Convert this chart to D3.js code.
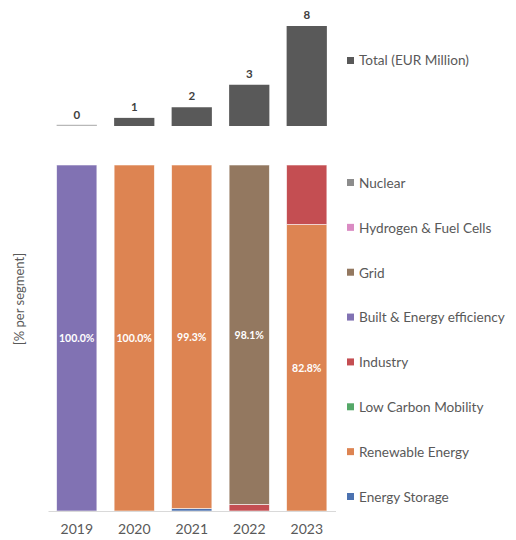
<!DOCTYPE html>
<html>
<head>
  <meta charset="utf-8">
  <title>Segments</title>
  <style>
    body { margin: 0; background: #fff; }
    text { font-family: Lato, "Open Sans", sans-serif; }
  </style>
</head>
<body>
  <div id="chart"></div>
  <script src="https://d3js.org/d3.v7.min.js"></script>
  <script>
    // data
    let years = ['2019', '2020', '2021', '2022', '2023'];
    let totals = [0.02, 0.65, 1.5, 3.3, 8.0];
    let totalLabels = ['0', '1', '2', '3', '8'];

    // stack order, bottom to top
    let segments = ['Energy Storage', 'Renewable Energy', 'Low Carbon Mobility', 'Industry',
      'Built & Energy efficiency', 'Grid', 'Hydrogen & Fuel Cells', 'Nuclear'];
    let segColors = ['#4c72b0', '#dd8452', '#55a868', '#c44e52', '#8172b3', '#937860', '#da8bc3', '#8c8c8c'];

    // % per segment for each year, in the order of segments
    let share2019 = [0, 0, 0, 0, 100, 0, 0, 0];
    let share2020 = [0, 100, 0, 0, 0, 0, 0, 0];
    let share2021 = [0.7, 99.3, 0, 0, 0, 0, 0, 0];
    let share2022 = [0, 0, 0, 1.9, 0, 98.1, 0, 0];
    let share2023 = [0, 82.8, 0, 17.2, 0, 0, 0, 0];
    let shares = [share2019, share2020, share2021, share2022, share2023];

    let W = 516, H = 540;
    let svg = d3.select('#chart').append('svg')
      .attr('width', W)
      .attr('height', H);

    let x = d3.scaleBand()
      .domain(years)
      .range([48, 335.5])
      .paddingInner(0.3)
      .paddingOuter(0.15);

    // top chart: totals
    let yt = d3.scaleLinear().domain([0, 8]).range([126, 26]);
    let gTotal = svg.append('g');
    gTotal.selectAll('rect').data(years).enter()
      .append('rect')
      .attr('x', d => x(d))
      .attr('width', x.bandwidth())
      .attr('y', (d, i) => yt(totals[i]) - (i == 0 ? 1 : 0))
      .attr('height', (d, i) => yt(0) - yt(totals[i]) + (i == 0 ? 1 : 0))
      .attr('fill', (d, i) => i == 0 ? '#b8b8b8' : '#595959');
    gTotal.selectAll('text').data(years).enter()
      .append('text')
      .attr('x', d => x(d) + x.bandwidth() / 2)
      .attr('y', (d, i) => yt(totals[i]) - 7)
      .attr('text-anchor', 'middle')
      .attr('font-size', 11.5)
      .attr('font-weight', 'bold')
      .attr('fill', '#404040')
      .text((d, i) => totalLabels[i]);

    // bottom chart: stacked shares
    let yb = d3.scaleLinear().domain([0, 100]).range([511, 165]);
    let rows = years.map((yr, i) => {
      let r = { year: yr };
      segments.forEach((s, j) => r[s] = shares[i][j]);
      return r;
    });
    let stacked = d3.stack().keys(segments)(rows);

    let gShare = svg.append('g');
    gShare.selectAll('g.layer').data(stacked).enter()
      .append('g')
      .attr('class', 'layer')
      .attr('fill', (d, i) => segColors[i])
      .selectAll('rect')
      .data(d => d.filter(p => p[1] - p[0] > 0))
      .enter()
      .append('rect')
      .attr('x', p => x(p.data.year))
      .attr('width', x.bandwidth())
      .attr('y', p => yb(p[1]))
      .attr('height', p => yb(p[0]) - yb(p[1]))
      .attr('stroke', '#fff')
      .attr('stroke-opacity', 0.7)
      .attr('stroke-width', 0.8);

    // label only the biggest segment of each year
    let labels = [];
    stacked.forEach(layer => layer.forEach(p => {
      let v = p[1] - p[0];
      if (v > 50) labels.push({ year: p.data.year, v: v, mid: (p[0] + p[1]) / 2 });
    }));
    gShare.selectAll('text.pct').data(labels).enter()
      .append('text')
      .attr('class', 'pct')
      .attr('x', d => x(d.year) + x.bandwidth() / 2)
      .attr('y', d => yb(d.mid) + 4)
      .attr('text-anchor', 'middle')
      .attr('font-size', 10.5)
      .attr('font-weight', 'bold')
      .attr('fill', '#fff')
      .text(d => d.v.toFixed(1) + '%');

    // x axis
    let xAxis = svg.append('g').attr('transform', 'translate(0,511)')
      .call(d3.axisBottom(x).tickSize(0).tickPadding(13));
    xAxis.select('.domain').attr('stroke', '#d9d9d9').attr('stroke-width', 1.2);
    xAxis.selectAll('text')
      .attr('font-size', 14)
      .attr('fill', '#595959')
      .style('font-family', 'Lato, sans-serif');

    // y title
    svg.append('text')
      .attr('transform', 'translate(24,299) rotate(-90)')
      .attr('text-anchor', 'middle')
      .attr('font-size', 13)
      .attr('fill', '#595959')
      .text('[% per segment]');

    // legends
    let legend = svg.append('g');
    legend.append('rect')
      .attr('x', 347).attr('y', 57).attr('width', 7).attr('height', 7)
      .attr('fill', '#595959');
    legend.append('text')
      .attr('x', 359).attr('y', 65)
      .attr('font-size', 13.6).attr('fill', '#595959')
      .text('Total (EUR Million)');

    let legendOrder = segments.slice().reverse();
    let ly = d3.scalePoint().domain(legendOrder).range([183, 497]);
    let items = legend.selectAll('g.item').data(legendOrder).enter()
      .append('g')
      .attr('class', 'item')
      .attr('transform', d => 'translate(0,' + ly(d) + ')');
    items.append('rect')
      .attr('x', 347).attr('y', -4).attr('width', 7).attr('height', 7)
      .attr('fill', d => segColors[segments.indexOf(d)]);
    items.append('text')
      .attr('x', 359).attr('y', 4.8)
      .attr('font-size', 13.6).attr('fill', '#595959')
      .text(d => d);
  </script>
</body>
</html>
